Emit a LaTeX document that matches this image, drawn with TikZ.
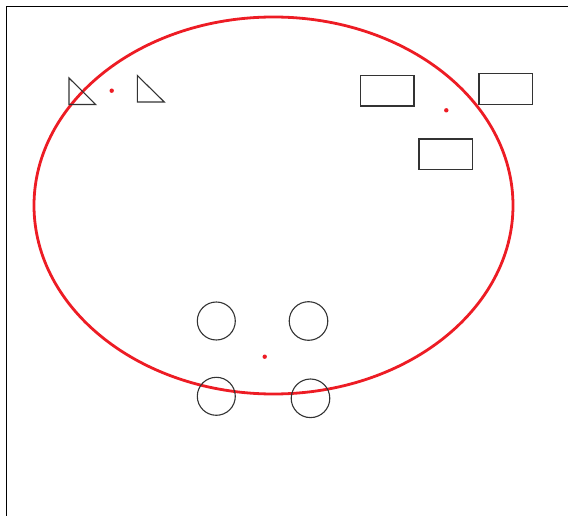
\documentclass[tikz,border=0pt]{standalone}
\definecolor{redline}{RGB}{237,28,36}
\begin{document}
\begin{tikzpicture}[x=1pt,y=-1pt,
  shapeline/.style={draw=black!80,line width=1.1pt},
  reddot/.style={fill=redline}]
\useasboundingbox (0,0) rectangle (568,516);
% frame
\draw[line width=1.2pt] (568,6.3) -- (6.6,6.3) -- (6.6,516);
% red ellipse
\draw[redline,line width=2.8pt] (273.5,205.5) ellipse [x radius=239.5, y radius=188.5];
% triangles
\draw[shapeline] (69,78) -- (69,104.5) -- (95.7,104.5) -- cycle;
\draw[shapeline] (137.3,75.5) -- (137.3,102) -- (164.3,102) -- cycle;
\fill[reddot] (111.7,90.7) circle (2.2);
% rectangles
\draw[shapeline] (360.7,75.3) rectangle (414,106);
\draw[shapeline] (479,73.7) rectangle (532.7,104.7);
\draw[shapeline] (419,139) rectangle (472.7,169.7);
\fill[reddot] (446.3,110.3) circle (2.2);
% circles
\draw[shapeline] (216.3,321) circle (19);
\draw[shapeline] (308.5,321) circle (19.3);
\draw[shapeline] (216.3,396.3) circle (19);
\draw[shapeline] (310.5,398.3) circle (19.3);
\fill[reddot] (264.7,356.7) circle (2.2);
\end{tikzpicture}
\end{document}
